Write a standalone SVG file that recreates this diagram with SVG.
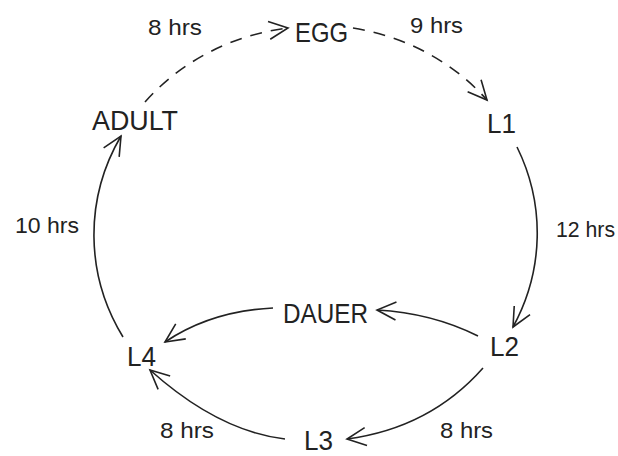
<svg xmlns="http://www.w3.org/2000/svg" width="618" height="456" viewBox="0 0 618 456">
<style>
.node{font-family:"Liberation Sans",Arial,sans-serif;font-size:28px;fill:#222}
.lbl{font-family:"Liberation Sans",Arial,sans-serif;font-size:22px;fill:#222}
.c{fill:none;stroke:#222;stroke-width:1.6;marker-end:url(#arr)}
.d{stroke-dasharray:12 9}
</style>
<defs>
<marker id="arr" markerUnits="userSpaceOnUse" markerWidth="24" markerHeight="24" refX="21" refY="11" orient="auto" viewBox="0 0 24 22">
<path d="M2,2 L21,11 L2,20" fill="none" stroke="#222" stroke-width="1.6" stroke-dasharray="none"/>
</marker>
</defs>
<rect width="618" height="456" fill="#fff"/>
<g id="connectors">
<path class="c d" d="M145,102 A223,207 0 0 1 288,28"/>
<path class="c d" d="M353,28 A223,207 0 0 1 487,100"/>
<path class="c" d="M517,147 A223,207 0 0 1 513,327"/>
<path class="c" d="M123,337 A223,207 0 0 1 121,136"/>
<path class="c" d="M478,336 Q432,313 377,310"/>
<path class="c" d="M273,308 Q211,311 165,342"/>
<path class="c" d="M483,368 Q430,428 347,439"/>
<path class="c" d="M285,439 Q218,431 150,370"/>
</g>
<g id="labels">
<text class="lbl" x="148" y="35" textLength="54" lengthAdjust="spacingAndGlyphs">8 hrs</text>
<text class="lbl" x="410" y="33" textLength="53" lengthAdjust="spacingAndGlyphs">9 hrs</text>
<text class="lbl" x="15" y="233" textLength="64" lengthAdjust="spacingAndGlyphs">10 hrs</text>
<text class="lbl" x="556" y="237" textLength="59" lengthAdjust="spacingAndGlyphs">12 hrs</text>
<text class="lbl" x="160" y="438" textLength="54" lengthAdjust="spacingAndGlyphs">8 hrs</text>
<text class="lbl" x="440" y="438" textLength="53" lengthAdjust="spacingAndGlyphs">8 hrs</text>
</g>
<g id="EGG"><text class="node" x="295" y="42" textLength="53" lengthAdjust="spacingAndGlyphs">EGG</text></g>
<g id="ADULT"><text class="node" x="92" y="130" textLength="86" lengthAdjust="spacingAndGlyphs">ADULT</text></g>
<g id="L1"><text class="node" x="487" y="133" textLength="29" lengthAdjust="spacingAndGlyphs">L1</text></g>
<g id="DAUER"><text class="node" x="283" y="323" textLength="85" lengthAdjust="spacingAndGlyphs">DAUER</text></g>
<g id="L2"><text class="node" x="490" y="356" textLength="29" lengthAdjust="spacingAndGlyphs">L2</text></g>
<g id="L4"><text class="node" x="127" y="366" textLength="29" lengthAdjust="spacingAndGlyphs">L4</text></g>
<g id="L3"><text class="node" x="304" y="450" textLength="29" lengthAdjust="spacingAndGlyphs">L3</text></g>
</svg>
